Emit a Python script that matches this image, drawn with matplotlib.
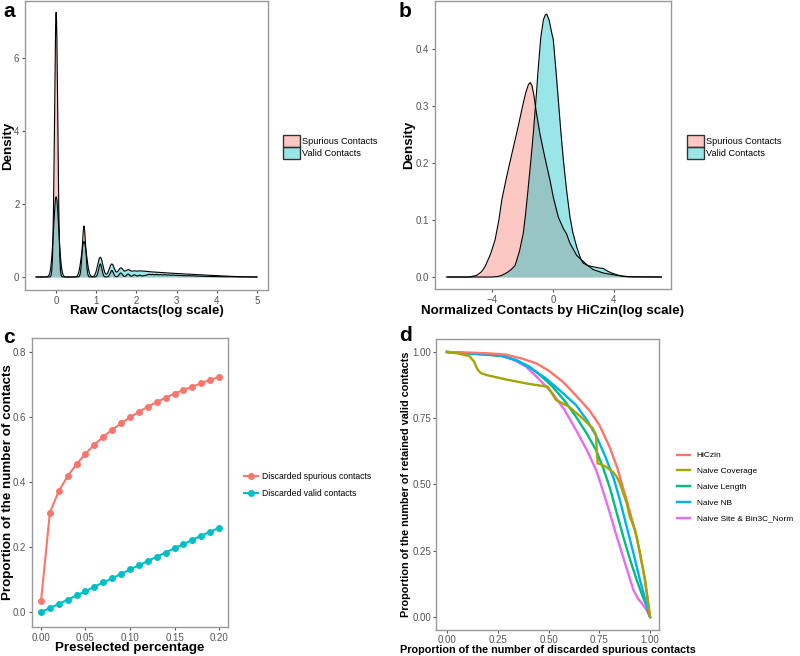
import numpy as np
import matplotlib
matplotlib.use("Agg")
import matplotlib.pyplot as plt
from matplotlib.patches import Patch
from matplotlib.lines import Line2D
from matplotlib.ticker import FormatStrFormatter

plt.rcParams["font.family"] = ["Liberation Sans", "DejaVu Sans"]

RED = "#F8766D"
CYAN = "#00BFC4"

# ---- panel a: raw contacts (weights of each count / log-count bin) ----
raw_counts = [1, 2, 3, 4, 5, 6, 7, 8, 9]
tail_log_counts = np.round(np.arange(2.3, 5.05, 0.1), 1)
valid_count_w = [0.358, 0.158, 0.088, 0.058, 0.040, 0.031, 0.023, 0.021, 0.018]
valid_tail_w = [0.0145, 0.014, 0.013, 0.0123, 0.0116, 0.0109, 0.0102, 0.0095,
                0.0089, 0.0083, 0.0077, 0.0071, 0.0065, 0.0059, 0.0053, 0.0047,
                0.0041, 0.0035, 0.003, 0.0025, 0.002, 0.0015, 0.0012, 0.0008,
                0.0005, 0.0003, 0.0002, 0.0001]
spur_count_w = [0.727, 0.14, 0.036, 0.018, 0.011, 0.008, 0.006, 0.005, 0.004]
spur_tail_w = [0.007, 0.0068, 0.0065, 0.0062, 0.0058, 0.0054, 0.005, 0.0046,
               0.0042, 0.0038, 0.0034, 0.003, 0.0026, 0.0022, 0.0019, 0.0016,
               0.0013, 0.001, 0.0008, 0.0006, 0.0005, 0.0004, 0.0003, 0.0002,
               0.0001, 0.0001, 0.0, 0.0]
valid_bw = 0.065
spur_bw = 0.04

# ---- panel b: normalized contacts density ----
spur_norm_x = [-6.9, -5.5, -5.0, -4.7, -4.46, -4.1, -3.8, -3.55, -3.36, -3.04,
               -2.75, -2.49, -2.25, -2.05, -1.8, -1.62, -1.5, -1.38, -1.25,
               -1.1, -0.85, -0.6, -0.41, -0.2, 0.02, 0.35, 0.68, 0.9, 1.1,
               1.55, 2.2, 2.64, 3.3, 3.95, 4.8, 7.1]
spur_norm_d = [0.0, 0.0, 0.003, 0.009, 0.018, 0.04, 0.065, 0.1, 0.135, 0.176,
               0.21, 0.24, 0.268, 0.293, 0.322, 0.337, 0.341, 0.336, 0.318,
               0.29, 0.25, 0.218, 0.195, 0.17, 0.14, 0.105, 0.085, 0.075, 0.06,
               0.038, 0.022, 0.013, 0.007, 0.004, 0.0005, 0.0]
valid_norm_x = [-7.0, -4.0, -3.6, -3.36, -3.0, -2.75, -2.49, -2.2, -1.95, -1.8,
                -1.62, -1.45, -1.29, -1.12, -0.96, -0.8, -0.63, -0.5, -0.41,
                -0.25, -0.1, 0.02, 0.2, 0.35, 0.5, 0.68, 0.9, 1.11, 1.3, 1.55,
                1.8, 1.99, 2.3, 2.64, 3.0, 3.3, 3.6, 3.95, 4.3, 4.6, 5.2, 7.1]
valid_norm_d = [0.0, 0.0, 0.001, 0.003, 0.008, 0.013, 0.02, 0.045, 0.077, 0.11,
                0.158, 0.205, 0.252, 0.31, 0.369, 0.42, 0.451, 0.46, 0.461,
                0.45, 0.43, 0.416, 0.36, 0.31, 0.26, 0.205, 0.15, 0.106, 0.078,
                0.053, 0.033, 0.024, 0.02, 0.018, 0.016, 0.015, 0.01, 0.006,
                0.003, 0.0015, 0.0003, 0.0]

# ---- panel c ----
preselected = [0.00, 0.01, 0.02, 0.03, 0.04, 0.05, 0.06, 0.07, 0.08, 0.09, 0.10,
               0.11, 0.12, 0.13, 0.14, 0.15, 0.16, 0.17, 0.18, 0.19, 0.20]
disc_spurious = [0.033, 0.306, 0.372, 0.418, 0.455, 0.487, 0.515, 0.539, 0.561,
                 0.580, 0.599, 0.616, 0.632, 0.646, 0.659, 0.672, 0.683, 0.693,
                 0.704, 0.714, 0.723]
disc_valid = [0.000, 0.012, 0.025, 0.038, 0.051, 0.064, 0.078, 0.091, 0.104,
              0.117, 0.131, 0.144, 0.157, 0.170, 0.183, 0.196, 0.209, 0.222,
              0.235, 0.247, 0.259]

# ---- panel d ----
hiczin_x = [0, 0.1, 0.2, 0.29, 0.37, 0.44, 0.5, 0.57, 0.63, 0.7, 0.75, 0.8,
            0.84, 0.865, 0.885, 0.91, 0.934, 0.955, 0.975, 1.0]
hiczin_y = [1, 0.998, 0.995, 0.99, 0.975, 0.957, 0.93, 0.888, 0.84, 0.781,
            0.725, 0.643, 0.56, 0.492, 0.44, 0.37, 0.303, 0.22, 0.14, 0.0]
coverage_x = [0, 0.05, 0.11, 0.134, 0.15, 0.167, 0.2, 0.3, 0.4, 0.496, 0.537,
              0.6, 0.66, 0.718, 0.734, 0.738, 0.742, 0.76, 0.783, 0.816, 0.835,
              0.852, 0.885, 0.9, 0.926, 0.951, 0.975, 1.0]
coverage_y = [1, 0.995, 0.985, 0.963, 0.935, 0.92, 0.912, 0.895, 0.88, 0.869,
              0.819, 0.794, 0.755, 0.712, 0.687, 0.62, 0.58, 0.575, 0.567,
              0.548, 0.53, 0.504, 0.429, 0.38, 0.328, 0.24, 0.14, 0.0]
length_x = [0, 0.1, 0.2, 0.27, 0.34, 0.405, 0.46, 0.52, 0.58, 0.635, 0.69,
            0.734, 0.77, 0.803, 0.835, 0.868, 0.9, 0.934, 0.96, 0.984, 1.0]
length_y = [1, 0.995, 0.99, 0.985, 0.97, 0.945, 0.912, 0.869, 0.815, 0.756,
            0.69, 0.63, 0.56, 0.485, 0.395, 0.303, 0.22, 0.14, 0.085, 0.039, 0.0]
nb_x = [0, 0.1, 0.2, 0.28, 0.35, 0.42, 0.488, 0.56, 0.635, 0.69, 0.737, 0.78,
        0.82, 0.85, 0.885, 0.92, 0.95, 0.975, 1.0]
nb_y = [1, 0.995, 0.99, 0.985, 0.965, 0.935, 0.9, 0.852, 0.8, 0.742, 0.68,
        0.605, 0.525, 0.445, 0.34, 0.235, 0.14, 0.07, 0.0]
site_x = [0, 0.1, 0.2, 0.27, 0.33, 0.389, 0.45, 0.52, 0.58, 0.635, 0.69, 0.734,
          0.754, 0.795, 0.836, 0.878, 0.918, 0.94, 0.959, 0.98, 1.0]
site_y = [1, 0.995, 0.99, 0.985, 0.97, 0.945, 0.9, 0.844, 0.78, 0.706, 0.628,
          0.555, 0.51, 0.41, 0.303, 0.2, 0.102, 0.07, 0.052, 0.03, 0.0]
method_names = ["HiCzin", "Naive Coverage", "Naive Length", "Naive NB",
                "Naive Site & Bin3C_Norm"]
method_colors = ["#F8766D", "#A3A500", "#00BF7D", "#00B0F6", "#E76BF3"]


def kde(grid, centers, weights, bw):
    centers = np.asarray(centers)[:, None]
    weights = np.asarray(weights)[:, None]
    g = np.exp(-0.5 * ((grid[None, :] - centers) / bw) ** 2) / (bw * np.sqrt(2 * np.pi))
    return (weights * g).sum(axis=0)


W, H = 800, 656
fig = plt.figure(figsize=(W / 100, H / 100), dpi=100)


def add_ax(x0, y0, x1, y1):
    return fig.add_axes([x0 / W, 1 - y1 / H, (x1 - x0) / W, (y1 - y0) / H])


def style(ax, pad=1.5):
    for s in ax.spines.values():
        s.set_color("#9A9A9A")
        s.set_linewidth(1.0)
    ax.tick_params(length=2.5, width=0.8, color="#555555", labelcolor="#555555",
                   labelsize=7, pad=pad)


def labels(ax, xtext, ytext, xy, yx, size=9.6):
    # xy: pixel row of the x label centre, yx: pixel column of the y label centre
    ax.set_xlabel(xtext, fontsize=size, fontweight="bold", va="center")
    ax.set_ylabel(ytext, fontsize=size, fontweight="bold", va="center")
    inv = ax.transAxes.inverted()
    ax_xy = inv.transform(fig.transFigure.transform((0, 1 - xy / H)))
    ax_yx = inv.transform(fig.transFigure.transform((yx / W, 0)))
    ax.xaxis.set_label_coords(0.5, ax_xy[1])
    ax.yaxis.set_label_coords(ax_yx[0], 0.5)


# panel a
ax = add_ax(25, 1, 268, 290)
grid = np.linspace(-0.5, 5, 3000)
centers = list(np.log(raw_counts)) + list(tail_log_counts)
d_spur = kde(grid, centers, spur_count_w + spur_tail_w, spur_bw)
d_valid = kde(grid, centers, valid_count_w + valid_tail_w, valid_bw)
ax.fill_between(grid, d_spur, color=RED, alpha=0.4, lw=0)
ax.plot(grid, d_spur, color="black", lw=0.8)
ax.fill_between(grid, d_valid, color=CYAN, alpha=0.4, lw=0)
ax.plot(grid, d_valid, color="black", lw=0.8)
ax.set_xlim(-0.775, 5.275)
ax.set_ylim(-0.356, 7.56)
ax.set_xticks([0, 1, 2, 3, 4, 5])
ax.set_yticks([0, 2, 4, 6])
style(ax)
labels(ax, "Raw Contacts(log scale)", "Density", 311, 8)

# panel b
ax = add_ax(435, 1, 671, 289)
ax.fill_between(spur_norm_x, spur_norm_d, color=RED, alpha=0.4, lw=0)
ax.plot(spur_norm_x, spur_norm_d, color="black", lw=0.8)
ax.fill_between(valid_norm_x, valid_norm_d, color=CYAN, alpha=0.4, lw=0)
ax.plot(valid_norm_x, valid_norm_d, color="black", lw=0.8)
ax.set_xlim(-7.74, 7.74)
ax.set_ylim(-0.021, 0.484)
ax.set_xticks([-4, 0, 4])
ax.set_yticks([0.0, 0.1, 0.2, 0.3, 0.4])
ax.yaxis.set_major_formatter(FormatStrFormatter("%.1f"))
style(ax)
labels(ax, "Normalized Contacts by HiCzin(log scale)", "Density", 311, 409)

density_handles = [Patch(facecolor=(0.973, 0.463, 0.427, 0.4), edgecolor="#333333", lw=1.0),
                   Patch(facecolor=(0.0, 0.749, 0.769, 0.4), edgecolor="#333333", lw=1.0)]
density_labels = ["Spurious Contacts", "Valid Contacts"]
for lx in (283, 687):
    fig.legend(density_handles, density_labels, loc="center left",
               bbox_to_anchor=(lx / W, 1 - 147 / H), frameon=False, fontsize=6.6,
               handlelength=1.8, handleheight=1.6, labelspacing=0.0,
               handletextpad=0.3, borderpad=0, borderaxespad=0)

# panel c
ax = add_ax(32, 338, 228, 627)
ax.plot(preselected, disc_spurious, color=RED, lw=1.5, marker="o", ms=4)
ax.plot(preselected, disc_valid, color=CYAN, lw=1.5, marker="o", ms=4)
ax.set_xlim(-0.0101, 0.2101)
ax.set_ylim(-0.046, 0.843)
ax.set_xticks([0.0, 0.05, 0.10, 0.15, 0.20])
ax.set_yticks([0.0, 0.2, 0.4, 0.6, 0.8])
ax.xaxis.set_major_formatter(FormatStrFormatter("%.2f"))
ax.yaxis.set_major_formatter(FormatStrFormatter("%.1f"))
style(ax)
labels(ax, "Preselected percentage", "Proportion of the number of contacts", 648, 8)

c_handles = [Line2D([], [], color=RED, lw=1.5, marker="o", ms=4),
             Line2D([], [], color=CYAN, lw=1.5, marker="o", ms=4)]
fig.legend(c_handles, ["Discarded spurious contacts", "Discarded valid contacts"],
           loc="center left", bbox_to_anchor=(244 / W, 1 - 485 / H), frameon=False,
           fontsize=6.2, handlelength=1.6, labelspacing=0.9, handletextpad=0.5,
           borderpad=0, borderaxespad=0)

# panel d
ax = add_ax(436, 339, 659, 630)
curves = [(hiczin_x, hiczin_y), (coverage_x, coverage_y), (length_x, length_y),
          (nb_x, nb_y), (site_x, site_y)]
order = [4, 2, 3, 0, 1]
for i in order:
    cx, cy = curves[i]
    ax.plot(cx, cy, color=method_colors[i], lw=1.7)
ax.set_xlim(-0.054, 1.044)
ax.set_ylim(-0.049, 1.049)
ax.set_xticks([0, 0.25, 0.5, 0.75, 1.0])
ax.set_yticks([0, 0.25, 0.5, 0.75, 1.0])
ax.xaxis.set_major_formatter(FormatStrFormatter("%.2f"))
ax.yaxis.set_major_formatter(FormatStrFormatter("%.2f"))
style(ax, pad=1.0)
labels(ax, "Proportion of the number of discarded spurious contacts",
       "Proportion of the number of retained valid contacts", 650, 406, size=7.8)

d_handles = [Line2D([], [], color=c, lw=1.7) for c in method_colors]
fig.legend(d_handles, method_names, loc="center left",
           bbox_to_anchor=(677 / W, 1 - 487 / H), frameon=False, fontsize=6.0,
           handlelength=1.55, labelspacing=0.95, handletextpad=0.8,
           borderpad=0, borderaxespad=0)

# panel letters
for txt, px, py in [("a", 3, 2), ("b", 399, 2), ("c", 3, 328), ("d", 399, 326)]:
    fig.text(px / W, 1 - py / H, txt, fontsize=15, fontweight="bold",
             va="top", ha="left")

fig.savefig("out.png", dpi=100)
